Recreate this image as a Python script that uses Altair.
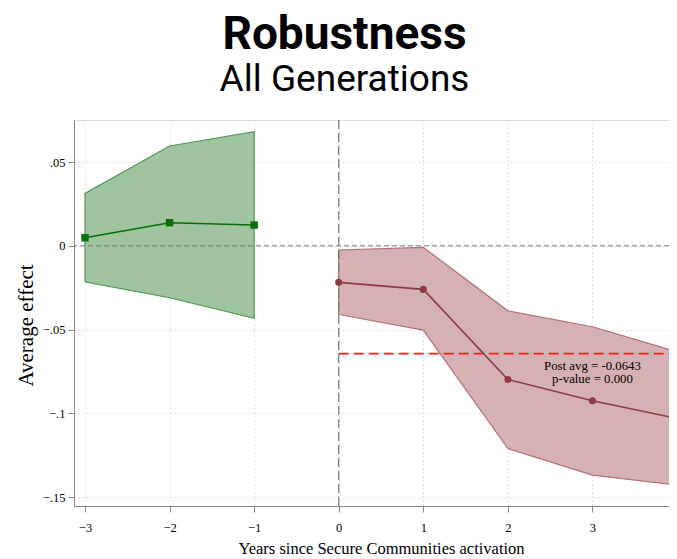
import altair as alt
import pandas as pd

# Pre-period (leads)
pre_x = [-3, -2, -1]
pre_est = [0.0048, 0.0138, 0.0124]
pre_lo = [-0.0215, -0.0310, -0.0433]
pre_hi = [0.0313, 0.0596, 0.0681]

# Post-period (lags)
post_x = [0, 1, 2, 3, 4]
post_est = [-0.0218, -0.0260, -0.0798, -0.0925, -0.1030]
post_lo = [-0.0410, -0.0503, -0.1210, -0.1369, -0.1428]
post_hi = [-0.0025, -0.0009, -0.0388, -0.0483, -0.0632]

post_avg = -0.0643
ann_lines = ["Post avg = -0.0643", "p-value = 0.000"]

x_ticks = [-3, -2, -1, 0, 1, 2, 3, 4]
y_ticks = [0.05, 0.0, -0.05, -0.1, -0.15]

pre = pd.DataFrame({"x": pre_x, "est": pre_est, "lo": pre_lo, "hi": pre_hi})
post = pd.DataFrame({"x": post_x, "est": post_est, "lo": post_lo, "hi": post_hi})

SERIF = "Liberation Serif"
xdom = [-3.13, 3.905]
ydom = [-0.1553, 0.0751]

xs = alt.Scale(domain=xdom, nice=False, zero=False)
ys = alt.Scale(domain=ydom, nice=False, zero=False)

xax = alt.Axis(values=x_ticks, format="d", title="Years since Secure Communities activation",
               labelFont=SERIF, labelFontSize=12.5, titleFont=SERIF, titleFontSize=16.5,
               titleFontWeight="normal", labelColor="black", titleColor="black",
               grid=True, gridDash=[1, 3], gridColor="#c8c8c8", domainColor="#888888",
               tickColor="#888888", tickSize=6, labelPadding=9, titlePadding=7, titleX=307)
yax = alt.Axis(values=y_ticks, title="Average effect",
               labelExpr="datum.value == 0 ? '0' : replace(format(datum.value, '.2~f'), '0.', '.')",
               labelFont=SERIF, labelFontSize=12.5, titleFont=SERIF, titleFontSize=21,
               titleFontWeight="normal", labelColor="black", titleColor="black",
               grid=True, gridDash=[1, 3], gridColor="#c8c8c8", domainColor="#888888",
               tickColor="#888888", tickSize=6, labelPadding=3, titlePadding=6, titleY=205)

base_x = alt.X("x:Q", scale=xs, axis=xax)

pre_band = alt.Chart(pre).mark_area(color="#a0c49f", opacity=1, stroke="#4f9a4f", strokeWidth=1.2).encode(
    x=base_x, y=alt.Y("lo:Q", scale=ys, axis=yax), y2="hi:Q")
post_band = alt.Chart(post).mark_area(color="#d5b1b3", opacity=1, stroke="#b07278", strokeWidth=1.2).encode(
    x=alt.X("x:Q", scale=xs), y=alt.Y("lo:Q", scale=ys), y2="hi:Q")

zero_h = alt.Chart(pd.DataFrame({"y": [0.0]})).mark_rule(color="#777777", strokeDash=[5, 3], strokeWidth=1).encode(
    y=alt.Y("y:Q", scale=ys))
zero_v = alt.Chart(pd.DataFrame({"x": [0.0]})).mark_rule(color="#777777", strokeDash=[9, 4], strokeWidth=1.2).encode(
    x=alt.X("x:Q", scale=xs))

pre_line = alt.Chart(pre).mark_line(color="#0a6e0a", strokeWidth=1.6).encode(
    x=alt.X("x:Q", scale=xs), y=alt.Y("est:Q", scale=ys))
pre_pts = alt.Chart(pre).mark_point(shape="square", filled=True, color="#0a6e0a", size=55, opacity=1).encode(
    x=alt.X("x:Q", scale=xs), y=alt.Y("est:Q", scale=ys))
post_line = alt.Chart(post).mark_line(color="#8e3a47", strokeWidth=1.6).encode(
    x=alt.X("x:Q", scale=xs), y=alt.Y("est:Q", scale=ys))
post_pts = alt.Chart(post).mark_point(shape="circle", filled=True, color="#8e3a47", size=50, opacity=1).encode(
    x=alt.X("x:Q", scale=xs), y=alt.Y("est:Q", scale=ys))

avg = alt.Chart(pd.DataFrame({"x": [0.0], "x2": [4.2], "y": [post_avg]})).mark_rule(
    color="#ff1a1a", strokeDash=[10, 5], strokeWidth=1.8).encode(
    x=alt.X("x:Q", scale=xs), x2="x2:Q", y=alt.Y("y:Q", scale=ys))

ann1 = alt.Chart(pd.DataFrame({"x": [3.0], "y": [post_avg], "t": [ann_lines[0]]})).mark_text(
    font=SERIF, fontSize=12.8, color="black", dy=12.4, baseline="middle").encode(
    x=alt.X("x:Q", scale=xs), y=alt.Y("y:Q", scale=ys), text="t:N")
ann2 = alt.Chart(pd.DataFrame({"x": [3.0], "y": [post_avg], "t": [ann_lines[1]]})).mark_text(
    font=SERIF, fontSize=12.8, color="black", dy=25.4, baseline="middle").encode(
    x=alt.X("x:Q", scale=xs), y=alt.Y("y:Q", scale=ys), text="t:N")

chart = alt.layer(pre_band, post_band, zero_h, zero_v, avg, pre_line, pre_pts, post_line, post_pts, ann1, ann2).properties(
    width=595, height=386,
    title=alt.TitleParams(text="Robustness", subtitle="All Generations", font="Roboto", fontSize=46,
                          fontWeight="bold", color="black", subtitleFont="Roboto", subtitleFontSize=37,
                          subtitleColor="black", subtitlePadding=3, anchor="middle", dx=-27, offset=20),
    autosize=alt.AutoSizeParams(type="none"),
    padding={"left": 66, "top": 112, "right": 0, "bottom": 52},
).configure_view(stroke=None).configure(background="white")

chart.save("out.html", embed_options={"renderer": "svg", "actions": False})
